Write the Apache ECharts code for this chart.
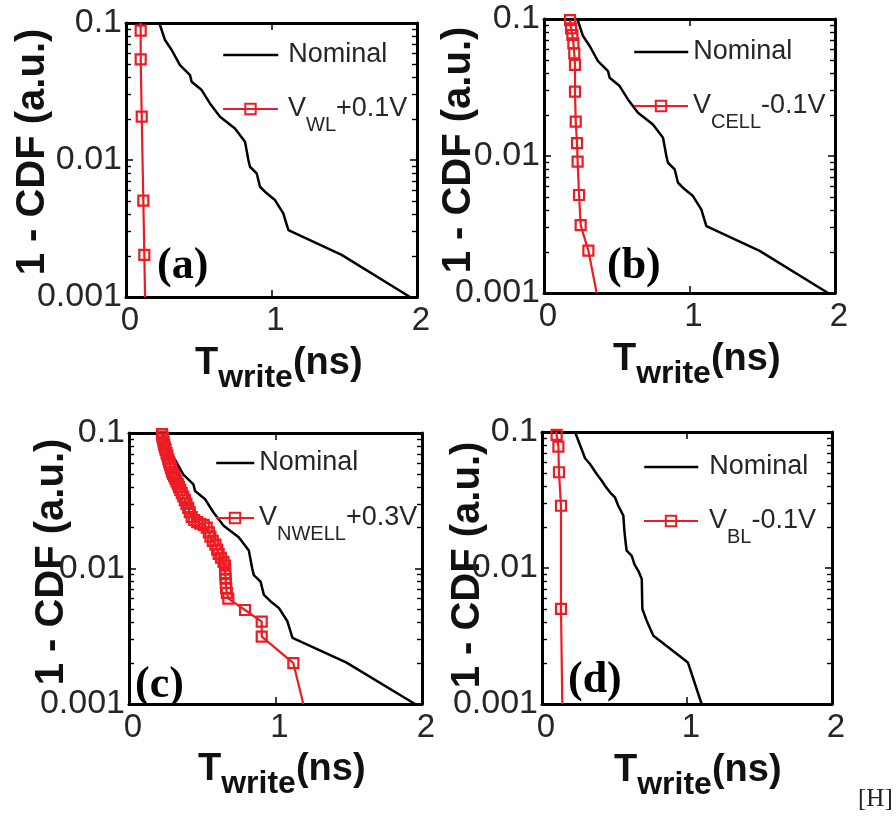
<!DOCTYPE html>
<html><head><meta charset="utf-8">
<script src="https://cdn.jsdelivr.net/npm/echarts@6/dist/echarts.min.js"></script>
<style>html,body{margin:0;padding:0;background:#fff}#c{width:896px;height:818px}</style>
</head><body><div id="c"></div>
<script>
// ---- data ----
const xTicks = [0, 1, 2];
const yTicks = [0.001, 0.01, 0.1];

// Nominal curve, panels (a)-(c)
const nominalX = [0.229,0.268,0.314,0.371,0.44,0.451,0.52,0.577,0.646,0.749,0.818,0.841,0.852,0.898,0.921,0.967,1.024,1.081,1.116,1.482,1.952];
const nominalY = [0.1,0.0751,0.0635,0.0493,0.0417,0.0373,0.0324,0.0259,0.0207,0.017,0.0136,0.01,0.00893,0.008,0.00638,0.00571,0.0051,0.00408,0.00308,0.00203,0.001];
// Nominal curve, panel (d)
const nominalDX = [0.228,0.262,0.297,0.331,0.377,0.412,0.434,0.469,0.503,0.526,0.561,0.568,0.578,0.584,0.619,0.63,0.637,0.665,0.688,0.692,0.722,0.768,0.871,1.006,1.101];
const nominalDY = [0.1,0.0802,0.0641,0.0582,0.0491,0.0438,0.0403,0.036,0.0331,0.0287,0.0243,0.0188,0.015,0.0134,0.0123,0.012,0.0107,0.0095,0.0083,0.005,0.0041,0.00318,0.00261,0.00202,0.001];

// (a) V_WL +0.1V
const wlX = [0.100,0.101,0.101,0.108,0.119,0.126,0.131];
const wlY = [0.1,0.088,0.0543,0.0207,0.00505,0.00203,0.001];
// (b) V_CELL -0.1V
const cellX = [0.179,0.186,0.195,0.202,0.208,0.213,0.213,0.218,0.227,0.231,0.241,0.252,0.305,0.362];
const cellY = [0.098,0.0855,0.0764,0.0664,0.0561,0.0462,0.0295,0.0178,0.0124,0.0091,0.00519,0.00313,0.00204,0.001];
// (c) V_NWELL +0.3V
const nwellX = [0.225,0.228,0.232,0.236,0.240,0.245,0.250,0.256,0.262,0.268,0.274,0.280,0.287,0.293,0.300,0.308,0.316,0.324,0.333,0.341,0.350,0.360,0.371,0.381,0.392,0.404,0.415,0.428,0.445,0.465,0.486,0.510,0.530,0.545,0.556,0.572,0.590,0.602,0.612,0.628,0.645,0.655,0.656,0.657,0.660,0.661,0.663,0.668,0.678,0.792,0.906,0.906,1.122,1.19];
const nwellY = [0.098,0.094,0.090,0.086,0.082,0.078,0.075,0.071,0.068,0.064,0.061,0.058,0.055,0.052,0.050,0.048,0.046,0.044,0.042,0.040,0.038,0.036,0.034,0.032,0.030,0.028,0.026,0.024,0.0228,0.0220,0.0214,0.0210,0.0200,0.0185,0.0172,0.0160,0.0150,0.0138,0.0128,0.0120,0.0112,0.0105,0.0098,0.0091,0.0084,0.0078,0.0072,0.0066,0.0060,0.00494,0.00405,0.00314,0.0020,0.001];
// (d) V_BL -0.1V
const blX = [0.095,0.101,0.113,0.117,0.131,0.131,0.14];
const blY = [0.1,0.0951,0.078,0.0506,0.0287,0.005,0.001];

const panelLabels = ['(a)', '(b)', '(c)', '(d)'];
const redNames = ['V_WL+0.1V', 'V_CELL-0.1V', 'V_NWELL+0.3V', 'V_BL-0.1V'];
const redRich = ['{n|V}{s|WL}{n|+0.1V}', '{n|V}{s|CELL}{n|-0.1V}', '{n|V}{s|NWELL}{n|+0.3V}', '{n|V}{s|BL}{n|-0.1V}'];

// ---- layout ----
const RED = '#ec1c24';
const SANS = '"Liberation Sans", Arial, sans-serif';
const SERIF = '"Liberation Serif", "Times New Roman", serif';
const grids = [
  {left:126, top:23, width:291, height:274},
  {left:544, top:19, width:291, height:274},
  {left:129, top:433, width:293, height:271},
  {left:542, top:432, width:290, height:272}
];
const legendPos = [
  {left:222, y1:55, y2:98, w:55, gap:5},
  {left:633, y1:52, y2:95, w:54, gap:0},
  {left:215, y1:463, y2:507, w:38, gap:0},
  {left:643, y1:467, y2:510, w:54, gap:6}
];
const yTitlePos = [[33,152],[459,150],[52,562],[468,565]];
const xTitlePos = [[195,364],[613,360],[198,770],[614,771]];
const panelLabelPos = [[157,267],[607,267],[135,686],[568,681]];

const yMin = yTicks[0], yMax = yTicks[yTicks.length-1];

function makeX(i, pos, labels) {
  return {
    type:'value', gridIndex:i, position:pos,
    min:xTicks[0], max:xTicks[xTicks.length-1], interval:1,
    axisLine:{show:true, onZero:false, lineStyle:{color:'#000', width:3}},
    axisTick:{show:true, inside:true, length:7, lineStyle:{color:'#000', width:1.5}},
    splitLine:{show:false},
    axisLabel:{show:labels, fontSize:33, color:'#262626', fontFamily:SANS, margin:7, padding:[0,0,0,8]}
  };
}
function makeY(i, pos, labels) {
  return {
    type:'log', logBase:10, gridIndex:i, position:pos,
    min:yMin, max:yMax,
    axisLine:{show:true, onZero:false, lineStyle:{color:'#000', width:3}},
    axisTick:{show:true, inside:true, length:7, lineStyle:{color:'#000', width:1.5}},
    minorTick:{show:true, splitNumber:9, length:5, lineStyle:{color:'#000', width:1.4}},
    splitLine:{show:false}, minorSplitLine:{show:false},
    axisLabel:{show:labels, fontSize:34, color:'#262626', fontFamily:SANS, margin:4,
      formatter: v => String(Number(Number(v).toPrecision(3)))}
  };
}
const xAxes = [], yAxes = [];
grids.forEach((g, i) => {
  xAxes.push(makeX(i, 'bottom', true));
  xAxes.push(makeX(i, 'top', false));
  yAxes.push(makeY(i, 'left', true));
  yAxes.push(makeY(i, 'right', false));
});

const panels = [
  {nx:nominalX, ny:nominalY, rx:wlX, ry:wlY},
  {nx:nominalX, ny:nominalY, rx:cellX, ry:cellY},
  {nx:nominalX, ny:nominalY, rx:nwellX, ry:nwellY},
  {nx:nominalDX, ny:nominalDY, rx:blX, ry:blY}
];
const onFrame = y => (y >= yMax || y <= yMin);
const series = [];
panels.forEach((p, i) => {
  series.push({
    type:'line', name:'Nominal', xAxisIndex:2*i, yAxisIndex:2*i,
    data:p.nx.map((x, k) => [x, p.ny[k]]),
    symbol:'none', lineStyle:{color:'#000', width:2.5}, itemStyle:{color:'#000'},
    z:2, animation:false, silent:true
  });
  series.push({
    type:'line', name:redNames[i], xAxisIndex:2*i, yAxisIndex:2*i,
    data:p.rx.map((x, k) => ({value:[x, p.ry[k]], symbol: onFrame(p.ry[k]) ? 'none' : 'rect'})),
    symbol:'rect', symbolSize:10, showAllSymbol:true,
    lineStyle:{color:RED, width:2.2},
    itemStyle:{color:'rgba(255,255,255,0)', borderColor:RED, borderWidth:2.2},
    z:3, animation:false, silent:true
  });
});

const LH = 30;
const legends = [];
legendPos.forEach((lp, i) => {
  legends.push({
    data:['Nominal'], left:lp.left, top:lp.y1 - LH/2, orient:'vertical', padding:0,
    itemWidth:lp.w, itemHeight:13, selectedMode:false,
    itemStyle:{opacity:0},
    lineStyle:{color:'#000', width:2.5},
    formatter: n => '{g|}{n|' + n + '}',
    textStyle:{fontSize:27, fontFamily:SANS, color:'#262626', lineHeight:LH,
      rich:{g:{width:lp.gap, lineHeight:LH}, n:{fontSize:27, fontFamily:SANS, color:'#262626', lineHeight:LH}}}
  });
  legends.push({
    data:[redNames[i]], left:lp.left, top:lp.y2 - LH/2, orient:'vertical', padding:0,
    itemWidth:lp.w, itemHeight:13, selectedMode:false,
    formatter: () => '{g|}' + redRich[i],
    textStyle:{fontSize:27, fontFamily:SANS, color:'#262626', lineHeight:LH,
      rich:{
        g:{width:lp.gap, lineHeight:LH},
        n:{fontSize:27, fontFamily:SANS, color:'#262626', lineHeight:LH},
        s:{fontSize:20, fontFamily:SANS, color:'#262626', lineHeight:LH, padding:[32,0,0,0]}
      }}
  });
});

const graphics = [];
panels.forEach((p, i) => {
  graphics.push({type:'text', x:yTitlePos[i][0], y:yTitlePos[i][1], rotation:Math.PI/2, silent:true,
    style:{text:'1 - CDF (a.u.)', fontSize:40, fontWeight:'bold', fontFamily:SANS, fill:'#111', align:'center', verticalAlign:'middle'}});
  graphics.push({type:'text', x:xTitlePos[i][0], y:xTitlePos[i][1], silent:true,
    style:{text:'{t|T}{s|write}{t|(ns)}', align:'left', verticalAlign:'middle', lineHeight:44,
      rich:{
        t:{fontSize:38, fontWeight:'bold', fontFamily:SANS, fill:'#111', lineHeight:44},
        s:{fontSize:32, fontWeight:'bold', fontFamily:SANS, fill:'#111', lineHeight:44, padding:[28,0,0,0]}
      }}});
  graphics.push({type:'text', x:panelLabelPos[i][0], y:panelLabelPos[i][1], silent:true,
    style:{text:panelLabels[i], fontSize:44, fontWeight:'bold', fontFamily:SERIF, fill:'#000', align:'left', verticalAlign:'middle'}});
});
graphics.push({type:'text', x:858, y:799, silent:true,
  style:{text:'[H]', fontSize:25, fontFamily:SERIF, fill:'#222', align:'left', verticalAlign:'middle'}});

const chart = echarts.init(document.getElementById('c'), null, {renderer:'canvas'});
chart.setOption({
  animation:false,
  backgroundColor:'#fff',
  grid:grids.map(g => Object.assign({containLabel:false}, g)),
  xAxis:xAxes, yAxis:yAxes,
  legend:legends,
  series:series,
  graphic:graphics
});
</script>
</body></html>
